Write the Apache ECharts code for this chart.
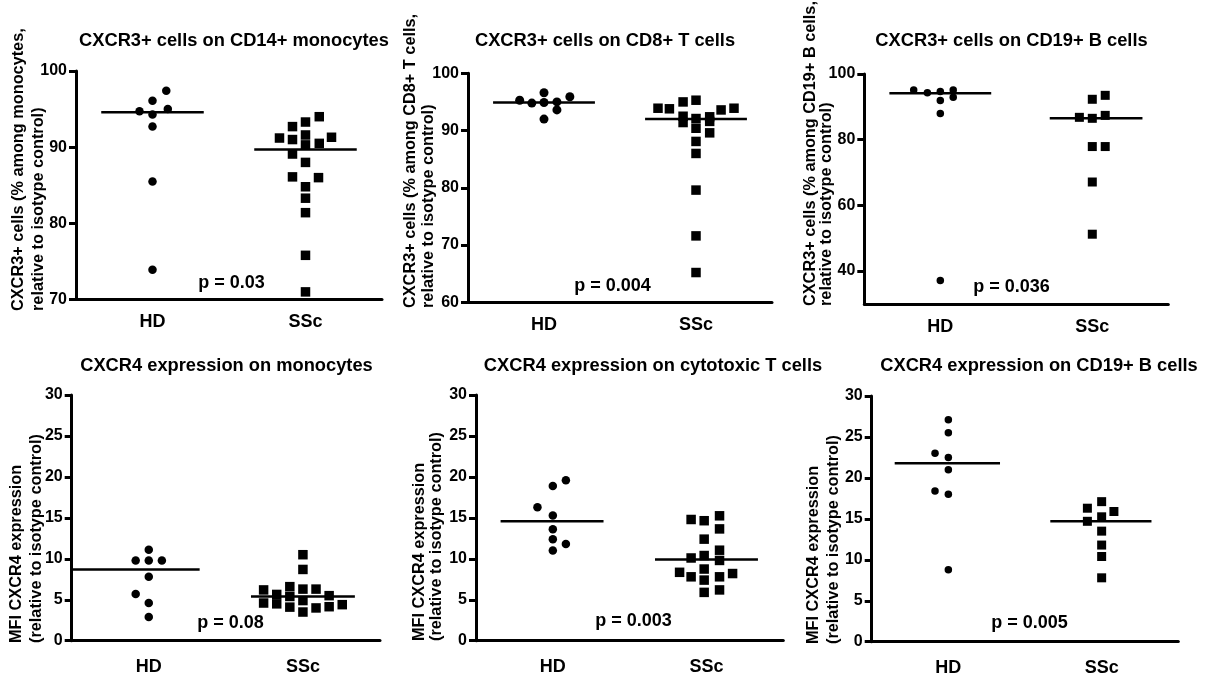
<!DOCTYPE html>
<html><head><meta charset="utf-8">
<script src="https://cdn.jsdelivr.net/npm/echarts@6/dist/echarts.min.js"></script>
<style>html,body{margin:0;padding:0;background:#fff}#c{width:1208px;height:677px}</style>
</head><body><div id="c"></div>
<script>
// ---------- data ----------
const categories = ['HD', 'SSc'];

const titles = [
  'CXCR3+ cells on CD14+ monocytes',
  'CXCR3+ cells on CD8+ T cells',
  'CXCR3+ cells on CD19+ B cells',
  'CXCR4 expression on monocytes',
  'CXCR4 expression on cytotoxic T cells',
  'CXCR4 expression on CD19+ B cells'
];
const yTitles = [
  ['CXCR3+ cells (% among monocytes,', 'relative to isotype control)'],
  ['CXCR3+ cells (% among CD8+ T cells,', 'relative to isotype control)'],
  ['CXCR3+ cells (% among CD19+ B cells,', 'relative to isotype control)'],
  ['MFI CXCR4 expression', '(relative to isotype control)'],
  ['MFI CXCR4 expression', '(relative to isotype control)'],
  ['MFI CXCR4 expression', '(relative to isotype control)']
];
const pLabels = ['p = 0.03', 'p = 0.004', 'p = 0.036', 'p = 0.08', 'p = 0.003', 'p = 0.005'];

const yRanges = [[70, 100], [60, 100], [30, 100], [0, 30], [0, 30], [0, 30]];
const yTicks = [
  [70, 80, 90, 100],
  [60, 70, 80, 90, 100],
  [40, 60, 80, 100],
  [0, 5, 10, 15, 20, 25, 30],
  [0, 5, 10, 15, 20, 25, 30],
  [0, 5, 10, 15, 20, 25, 30]
];

// Panel 1: CXCR3 on CD14+ monocytes
const cd14HD = [97.4, 96.1, 94.7, 95.0, 94.3, 92.7, 85.5, 73.9];
const cd14HDJitter = [0.09, 0, -0.085, 0.1, 0, 0, 0, 0];
const cd14SSc = [94.0, 93.3, 92.7, 91.2, 91.0, 91.6, 91.3, 90.5, 90.3, 89.1, 88.0, 86.1, 86.0, 84.8, 83.3, 81.4, 75.8, 71.0];
const cd14SScJitter = [0.09, 0, -0.085, -0.17, -0.085, 0, 0.17, 0.09, 0, -0.085, 0, -0.085, 0.085, 0, 0, 0, 0, 0];
const cd14Median = [94.6, 89.7];

// Panel 2: CXCR3 on CD8+ T cells
const cd8HD = [95.3, 94.8, 96.6, 94.9, 95.0, 95.9, 93.6, 92.0];
const cd8HDJitter = [-0.16, -0.08, 0, 0, 0.085, 0.17, 0.085, 0];
const cd8SSc = [93.9, 93.8, 95.0, 95.3, 93.6, 93.9, 92.5, 91.4, 92.1, 90.4, 88.1, 86.0, 92.4, 91.6, 89.6, 79.6, 71.6, 65.2];
const cd8SScJitter = [-0.25, -0.175, -0.085, 0, 0.165, 0.25, -0.085, -0.085, 0, 0, 0, 0, 0.09, 0.09, 0.09, 0, 0, 0];
const cd8Median = [94.9, 92.0];

// Panel 3: CXCR3 on CD19+ B cells
const cd19HD = [95.1, 94.3, 94.7, 95.1, 92.9, 91.9, 88.0, 37.1];
const cd19HDJitter = [-0.175, -0.085, 0, 0.085, 0.085, 0, 0, 0];
const cd19SSc = [92.3, 93.5, 86.8, 86.5, 87.4, 77.9, 77.9, 67.1, 51.2];
const cd19SScJitter = [0, 0.085, -0.085, 0, 0.085, 0, 0.085, 0, 0];
const cd19Median = [94.1, 86.5];

// Panel 4: CXCR4 on monocytes
const monoHD = [11.1, 9.8, 9.8, 9.8, 7.8, 5.7, 4.6, 2.9];
const monoHDJitter = [0, -0.085, 0, 0.085, 0, -0.085, 0, 0];
const monoSSc = [6.2, 4.6, 5.65, 4.5, 6.6, 5.4, 4.1, 10.5, 8.7, 6.3, 4.9, 3.5, 6.3, 4.0, 5.5, 4.15, 4.4];
const monoSScJitter = [-0.255, -0.255, -0.17, -0.17, -0.085, -0.085, -0.085, 0, 0, 0, 0, 0, 0.085, 0.085, 0.17, 0.17, 0.255];
const monoMedian = [8.7, 5.4];

// Panel 5: CXCR4 on cytotoxic T cells
const cytoHD = [19.6, 18.9, 16.3, 15.3, 13.6, 12.4, 11.8, 11.0];
const cytoHDJitter = [0.085, 0, -0.1, 0, 0, 0, 0.085, 0];
const cytoSSc = [14.8, 14.65, 15.25, 13.65, 12.4, 11.05, 10.1, 10.4, 9.8, 8.35, 7.8, 8.75, 7.4, 7.8, 8.2, 5.9, 6.2];
const cytoSScJitter = [-0.1, -0.015, 0.085, 0.085, -0.015, 0.085, -0.1, -0.015, 0.085, -0.175, -0.1, -0.015, -0.015, 0.085, 0.17, -0.015, 0.085];
const cytoMedian = [14.6, 9.9];

// Panel 6: CXCR4 on CD19+ B cells
const bHD = [27.1, 25.5, 23.0, 22.5, 21.0, 18.4, 18.0, 8.8];
const bHDJitter = [0, 0, -0.087, 0, 0, -0.087, 0, 0];
const bSSc = [17.1, 16.3, 15.9, 15.25, 14.7, 13.5, 11.8, 10.4, 7.8];
const bSScJitter = [0, -0.093, 0.08, 0, -0.093, 0, 0, 0, 0];
const bMedian = [21.8, 14.7];

const panelData = [
  [cd14HD, cd14HDJitter, cd14SSc, cd14SScJitter, cd14Median],
  [cd8HD, cd8HDJitter, cd8SSc, cd8SScJitter, cd8Median],
  [cd19HD, cd19HDJitter, cd19SSc, cd19SScJitter, cd19Median],
  [monoHD, monoHDJitter, monoSSc, monoSScJitter, monoMedian],
  [cytoHD, cytoHDJitter, cytoSSc, cytoSScJitter, cytoMedian],
  [bHD, bHDJitter, bSSc, bSScJitter, bMedian]
];

// ---------- layout (pixels) ----------
const layout = [
  {left: 76, top: 71, width: 306, height: 228.5, title: [234, 41], p: [231.5, 283], yl: [19, 38.5, 311], xm: 14, cs: 8.5, ss: 9.5, span: [[-0.335, 0.335], [-0.335, 0.335]]},
  {left: 468, top: 73.3, width: 304, height: 229, title: [605, 41], p: [612.5, 286], yl: [410.5, 429, 308], xm: 14, cs: 9, ss: 9.5, span: [[-0.335, 0.335], [-0.335, 0.335]]},
  {left: 864.3, top: 74, width: 304, height: 229.8, title: [1011.5, 41], p: [1011.5, 287.5], yl: [810.5, 827, 306], xm: 14, cs: 7.5, ss: 9, span: [[-0.335, 0.335], [-0.28, 0.33]]},
  {left: 71.7, top: 395, width: 308.3, height: 245.7, title: [226.5, 366], p: [230.5, 623.5], yl: [17, 37, 643], xm: 17, cs: 8.5, ss: 9.5, span: [[-0.5, 0.33], [-0.337, 0.337]]},
  {left: 476, top: 395, width: 307.3, height: 245.7, title: [653, 366], p: [633.5, 621.5], yl: [420, 437, 641], xm: 17, cs: 8.5, ss: 9.5, span: [[-0.34, 0.33], [-0.335, 0.335]]},
  {left: 871.7, top: 396, width: 306.6, height: 245.7, title: [1039, 366], p: [1029.5, 623.5], yl: [813.5, 833.5, 644], xm: 17, cs: 7.5, ss: 9, span: [[-0.35, 0.337], [-0.335, 0.325]]}
];

const FF = '"Liberation Sans", Arial, sans-serif';
const AXW = 3;
const grid = [], xAxis = [], yAxis = [], series = [], graphic = [];

panelData.forEach((d, i) => {
  const L = layout[i];
  const [hd, hdJ, ssc, sscJ, med] = d;
  grid.push({left: L.left, top: L.top, width: L.width, height: L.height, containLabel: false});
  xAxis.push({
    type: 'category', gridIndex: i, data: categories, boundaryGap: true,
    axisLine: {onZero: false, lineStyle: {color: '#000', width: AXW}},
    axisTick: {alignWithLabel: true, length: 6, lineStyle: {color: '#000', width: AXW}},
    axisLabel: {color: '#000', fontWeight: 'bold', fontSize: 18, fontFamily: FF, margin: L.xm},
    splitLine: {show: false}
  });
  xAxis.push({type: 'value', gridIndex: i, min: 0, max: 2, show: false});
  yAxis.push({
    type: 'value', gridIndex: i, min: yRanges[i][0], max: yRanges[i][1],
    axisLine: {show: true, onZero: false, lineStyle: {color: '#000', width: AXW}},
    axisTick: {show: true, length: 7, customValues: yTicks[i], lineStyle: {color: '#000', width: AXW}},
    axisLabel: {customValues: yTicks[i], color: '#000', fontWeight: 'bold', fontSize: 16, fontFamily: FF, margin: 9},
    splitLine: {show: false}
  });
  series.push({
    type: 'scatter', xAxisIndex: 2 * i + 1, yAxisIndex: i, symbol: 'circle', symbolSize: L.cs,
    itemStyle: {color: '#000', opacity: 1}, silent: true,
    data: hd.map((v, k) => [0.5 + hdJ[k], v])
  });
  series.push({
    type: 'scatter', xAxisIndex: 2 * i + 1, yAxisIndex: i, symbol: 'rect', symbolSize: L.ss,
    itemStyle: {color: '#000', opacity: 1}, silent: true,
    data: ssc.map((v, k) => [1.5 + sscJ[k], v])
  });
  [0, 1].forEach(g => {
    series.push({
      type: 'line', xAxisIndex: 2 * i + 1, yAxisIndex: i, symbol: 'none', silent: true,
      lineStyle: {color: '#000', width: 2.5}, z: 1,
      data: [[g + 0.5 + L.span[g][0], med[g]], [g + 0.5 + L.span[g][1], med[g]]]
    });
  });
  graphic.push({type: 'text', x: L.title[0], y: L.title[1], style: {text: titles[i], fill: '#000', font: 'bold 18.3px ' + FF, textAlign: 'center', textVerticalAlign: 'middle'}});
  graphic.push({type: 'text', x: L.p[0], y: L.p[1], style: {text: pLabels[i], fill: '#000', font: 'bold 18px ' + FF, textAlign: 'center', textVerticalAlign: 'middle'}});
  graphic.push({type: 'text', x: L.yl[0], y: L.yl[2], rotation: Math.PI / 2, style: {text: yTitles[i][0], fill: '#000', font: 'bold 16.3px ' + FF, textAlign: 'left', textVerticalAlign: 'middle'}});
  graphic.push({type: 'text', x: L.yl[1], y: L.yl[2], rotation: Math.PI / 2, style: {text: yTitles[i][1], fill: '#000', font: 'bold 16.3px ' + FF, textAlign: 'left', textVerticalAlign: 'middle'}});
});

const chart = echarts.init(document.getElementById('c'), null, {renderer: 'canvas'});
chart.setOption({
  animation: false,
  backgroundColor: '#fff',
  grid, xAxis, yAxis, series, graphic
});
</script>
</body></html>
